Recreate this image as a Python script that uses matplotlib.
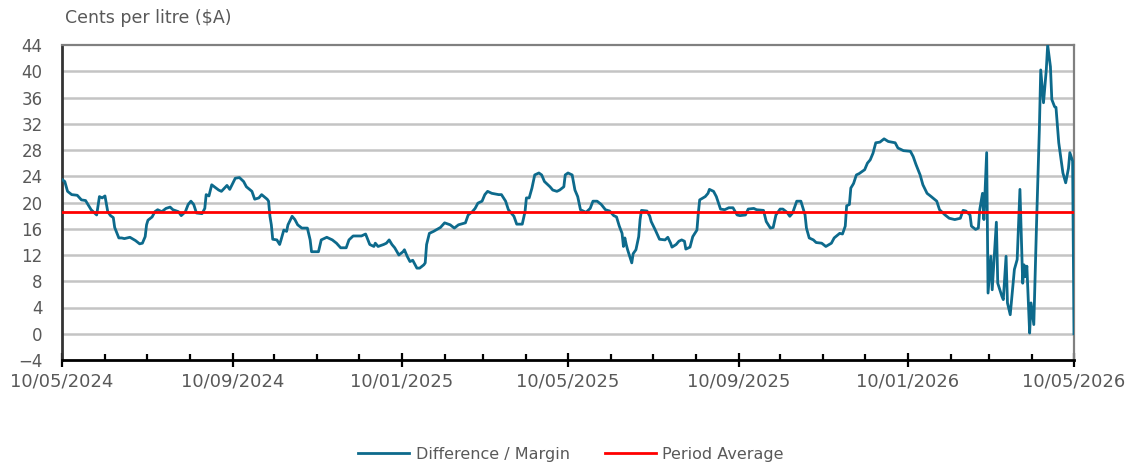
import numpy as np
import pandas as pd
import matplotlib
matplotlib.use("Agg")
import matplotlib.pyplot as plt
import matplotlib.dates as mdates

# %%
# days since 10/05/2024 and margin (cents per litre)
start = pd.Timestamp("2024-05-10")
end = pd.Timestamp("2026-05-10")

days = [0, 2, 4, 7, 11, 14, 17, 21, 25, 27, 29, 31, 33, 35, 37, 38, 41, 43, 45, 49,
        53, 56, 58, 60, 61, 62, 65, 67, 69, 72, 75, 78, 80, 84, 86, 89, 91, 93, 95, 97,
        101, 103, 104, 106, 108, 113, 115, 119, 121, 125, 128, 131, 133, 137, 139, 142, 144, 148, 149, 150,
        151, 152, 155, 157, 158, 160, 162, 163, 166, 168, 170, 173, 177, 179, 180, 185, 187, 191, 195, 198,
        201, 205, 207, 210, 216, 219, 222, 225, 226, 228, 232, 234, 236, 238, 240, 243, 246, 247, 249, 251,
        253, 256, 258, 261, 262, 263, 265, 268, 273, 276, 280, 283, 286, 291, 293, 296, 298, 300, 303, 305,
        307, 310, 315, 317, 320, 322, 326, 328, 332, 334, 335, 337, 339, 341, 344, 346, 348, 352, 354, 357,
        359, 362, 363, 365, 368, 370, 372, 374, 378, 381, 383, 386, 389, 392, 395, 398, 400, 402, 404, 405,
        406, 407, 408, 411, 412, 414, 416, 417, 418, 422, 424, 425, 428, 431, 435, 437, 439, 440, 443, 445,
        447, 449, 450, 453, 455, 458, 459, 460, 464, 466, 467, 470, 472, 475, 478, 481, 484, 487, 489, 493,
        495, 499, 501, 506, 508, 511, 513, 515, 518, 520, 523, 525, 527, 530, 533, 536, 537, 539, 542, 544,
        548, 551, 555, 557, 561, 563, 565, 566, 568, 569, 571, 573, 575, 577, 579, 581, 583, 585, 587, 590,
        593, 596, 601, 603, 607, 612, 614, 616, 619, 621, 624, 627, 631, 633, 637, 640, 644, 648, 650, 652,
        655, 656, 659, 661, 662, 664, 665, 667, 668, 670, 671, 674, 675, 678, 679, 681, 682, 684, 687, 689,
        691, 693, 694, 695, 696, 698, 699, 701, 703, 705, 706, 708, 710, 711, 713, 714, 716, 717, 719, 722,
        724, 726, 727, 729, 730]

margin = [23.5, 23.2, 21.7, 21.2, 21.1, 20.4, 20.3, 18.9, 18.1, 20.9, 20.7, 21.0, 18.6, 18.0, 17.7, 16.2, 14.6, 14.6, 14.5, 14.7,
          14.2, 13.7, 13.8, 14.8, 16.6, 17.3, 17.8, 18.6, 18.9, 18.6, 19.1, 19.3, 18.9, 18.6, 18.0, 18.6, 19.7, 20.2, 19.7, 18.4,
          18.3, 19.1, 21.2, 21.0, 22.7, 21.9, 21.7, 22.6, 22.0, 23.7, 23.8, 23.2, 22.4, 21.7, 20.5, 20.7, 21.2, 20.5, 20.2, 17.9,
          16.6, 14.4, 14.3, 13.6, 14.3, 15.8, 15.6, 16.6, 17.9, 17.4, 16.6, 16.1, 16.1, 14.3, 12.5, 12.5, 14.3, 14.7, 14.3, 13.8,
          13.1, 13.1, 14.3, 14.9, 14.9, 15.2, 13.6, 13.3, 13.8, 13.3, 13.6, 13.8, 14.3, 13.6, 13.1, 12.0, 12.5, 12.8, 11.8, 11.0,
          11.2, 10.0, 10.0, 10.5, 10.8, 13.6, 15.3, 15.6, 16.2, 16.9, 16.6, 16.1, 16.6, 16.9, 18.1, 18.6, 19.1, 19.9, 20.2, 21.2,
          21.7, 21.4, 21.2, 21.2, 20.2, 18.9, 17.9, 16.7, 16.7, 18.6, 20.7, 20.7, 22.2, 24.2, 24.5, 24.2, 23.2, 22.4, 21.9, 21.7,
          21.9, 22.4, 24.2, 24.5, 24.2, 21.9, 20.9, 18.9, 18.5, 19.1, 20.2, 20.2, 19.7, 18.9, 18.7, 18.0, 17.8, 16.4, 15.3, 13.3,
          14.6, 13.6, 12.8, 10.8, 12.2, 12.8, 14.8, 17.4, 18.8, 18.7, 17.9, 17.1, 15.8, 14.4, 14.3, 14.7, 13.8, 13.2, 13.6, 14.1,
          14.3, 14.1, 12.9, 13.2, 14.8, 15.8, 18.4, 20.4, 20.9, 21.4, 22.0, 21.7, 20.9, 19.0, 18.9, 19.2, 19.2, 18.1, 18.0, 18.1,
          19.0, 19.1, 18.9, 18.8, 17.1, 16.1, 16.2, 18.1, 19.0, 19.0, 18.5, 17.9, 18.4, 20.2, 20.2, 18.1, 16.1, 14.6, 14.3, 13.9,
          13.8, 13.3, 13.8, 14.6, 15.3, 15.2, 16.4, 19.5, 19.7, 22.2, 22.9, 24.2, 24.4, 24.7, 25.0, 26.0, 26.5, 27.5, 29.1, 29.2,
          29.7, 29.3, 29.1, 28.3, 27.9, 27.8, 27.0, 25.8, 24.2, 22.7, 21.4, 20.9, 20.2, 18.9, 18.1, 17.6, 17.4, 17.6, 18.8, 18.7,
          18.1, 16.4, 15.9, 16.1, 18.9, 21.4, 17.4, 27.6, 6.2, 11.8, 6.7, 17.0, 7.7, 5.7, 5.2, 11.8, 4.7, 2.9, 9.8, 11.3,
          22.0, 7.7, 10.5, 8.7, 10.3, 0.1, 4.7, 1.4, 16.9, 31.1, 40.2, 35.2, 40.2, 44.0, 40.7, 35.7, 34.6, 34.5, 29.1, 24.5,
          23.0, 25.2, 27.6, 26.3, 0.0]

period_average = 18.5
y_ticks = list(range(-4, 45, 4))

dates = start + pd.to_timedelta(days, unit="D")

# %%
text_col = "#595959"
plt.rcParams["font.family"] = ["DejaVu Sans"]

fig = plt.figure(figsize=(11.31, 4.65), dpi=100)
ax = fig.add_axes([62 / 1131, 1 - 360 / 465, (1074 - 62) / 1131, (360 - 45) / 465])

ax.plot(dates, margin, color="#0d6a8c", lw=2.0, label="Difference / Margin", zorder=3)
ax.axhline(period_average, color="#ff0000", lw=2.0, label="Period Average", zorder=4)

ax.set_xlim(start, end)
ax.set_ylim(-4, 44)
ax.set_yticks(y_ticks)
for v in y_ticks[1:-1]:
    ax.axhline(v, color="#c4c4c4", lw=1.8, zorder=1)

ax.xaxis.set_major_locator(mdates.MonthLocator(bymonth=[1, 5, 9], bymonthday=10))
ax.xaxis.set_minor_locator(mdates.MonthLocator(bymonthday=10))
ax.xaxis.set_major_formatter(mdates.DateFormatter("%d/%m/%Y"))

ax.tick_params(axis="x", which="major", direction="inout", length=10, width=1.6,
               color="black", labelsize=13, labelcolor=text_col, pad=4)
ax.tick_params(axis="x", which="minor", direction="in", length=4.5, width=1.6, color="black")
ax.tick_params(axis="y", length=0, labelsize=12, labelcolor=text_col, pad=14)

ax.spines["left"].set_color("#333333")
ax.spines["left"].set_linewidth(2)
ax.spines["bottom"].set_color("black")
ax.spines["bottom"].set_linewidth(2)
for s in ["top", "right"]:
    ax.spines[s].set_color("#808080")
    ax.spines[s].set_linewidth(1.6)

fig.text(65 / 1131, 1 - 18 / 465, "Cents per litre ($A)", fontsize=12.5, color=text_col,
         ha="left", va="center")

fig.legend(loc="center", bbox_to_anchor=(0.505, 1 - 454 / 465), ncol=2, frameon=False,
           fontsize=11.5, labelcolor=text_col, handlelength=3.2, handletextpad=0.4,
           columnspacing=2.2)

fig.savefig("out.png", dpi=100)
